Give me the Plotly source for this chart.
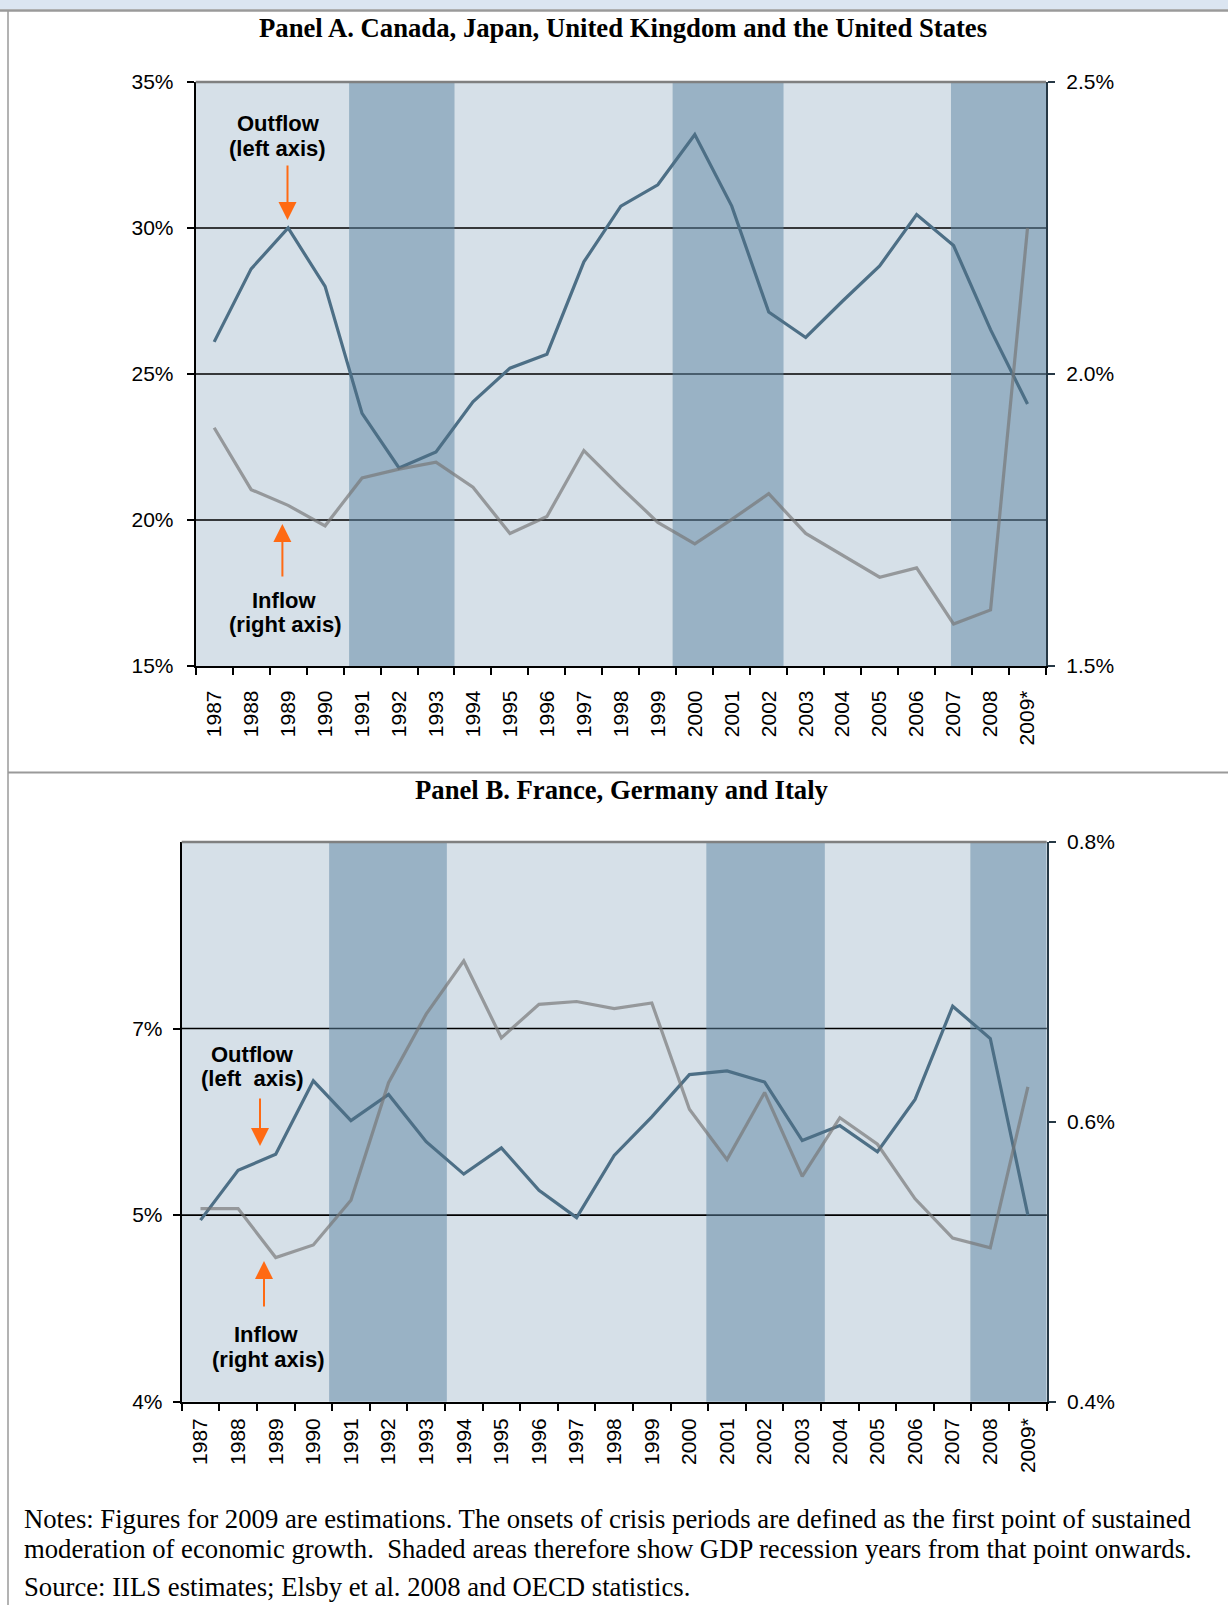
import plotly.graph_objects as go

W, H = 1228, 1605

# ---------------- data ----------------
years = ["1987", "1988", "1989", "1990", "1991", "1992", "1993", "1994", "1995", "1996",
         "1997", "1998", "1999", "2000", "2001", "2002", "2003", "2004", "2005", "2006",
         "2007", "2008", "2009*"]

# Panel A: Canada, Japan, UK, US
outflow_a = [26.1, 28.6, 30.0, 28.0, 23.65, 21.78, 22.33, 24.05, 25.2, 25.68,
             28.84, 30.75, 31.48, 33.2, 30.75, 27.12, 26.25, 27.5, 28.7, 30.46,
             29.4, 26.52, 23.97]
inflow_a = [1.908, 1.802, 1.775, 1.740, 1.822, 1.837, 1.849, 1.806, 1.727, 1.756,
            1.869, 1.806, 1.746, 1.709, 1.751, 1.795, 1.727, 1.690, 1.652, 1.668,
            1.572, 1.596, 2.25]

# Panel B: France, Germany, Italy
outflow_b = [5.46, 5.86, 5.99, 6.58, 6.26, 6.47, 6.09, 5.83, 6.04, 5.70,
             5.48, 5.98, 6.29, 6.63, 6.66, 6.57, 6.10, 6.22, 6.01, 6.43,
             7.18, 6.92, 5.50]
inflow_b = [0.538, 0.538, 0.503, 0.512, 0.544, 0.628, 0.677, 0.715, 0.660, 0.684,
            0.686, 0.681, 0.685, 0.609, 0.573, 0.621, 0.561, 0.603, 0.584, 0.545,
            0.517, 0.510, 0.625]

# shaded recession periods (in year units)
bands_a = [(1990.65, 1993.5), (1999.4, 2002.4), (2006.93, 2009.5)]
bands_b = [(1990.42, 1993.55), (2000.45, 2003.6), (2007.47, 2009.5)]

# axis ticks
a_left_vals = [15, 20, 25, 30, 35]
a_left_text = ["15%", "20%", "25%", "30%", "35%"]
a_right_vals = [1.5, 2.0, 2.5]
a_right_text = ["1.5%", "2.0%", "2.5%"]
b_left_vals = [4, 5.5, 7]
b_left_text = ["4%", "5%", "7%"]
b_right_vals = [0.4, 0.6, 0.8]
b_right_text = ["0.4%", "0.6%", "0.8%"]

title_a = "Panel A. Canada, Japan, United Kingdom and the United States"
title_b = "Panel B. France, Germany and Italy"
notes1 = "Notes: Figures for 2009 are estimations. The onsets of crisis periods are defined as the first point of sustained"
notes2 = "moderation of economic growth.\u00a0 Shaded areas therefore show GDP recession years from that point onwards."
source = "Source: IILS estimates; Elsby et al. 2008 and OECD statistics."

# ---------------- styles ----------------
BG = "#d6e0e8"
BAND = "rgba(92,132,162,0.5)"
OUT_C = "#4d6f86"
IN_C = "rgba(118,118,118,0.68)"
ORANGE = "#ff6a13"
SANS = "Liberation Sans, Arial, sans-serif"
SERIF = "Liberation Serif, Times New Roman, serif"


def px(x):
    return x / W


def py(y):
    return 1 - y / H


fig = go.Figure()
fig.add_trace(go.Scatter(x=years, y=outflow_a, xaxis="x", yaxis="y", mode="lines",
                         line=dict(color=OUT_C, width=3.2), hoverinfo="skip"))
fig.add_trace(go.Scatter(x=years, y=inflow_a, xaxis="x", yaxis="y2", mode="lines",
                         line=dict(color=IN_C, width=3.2), hoverinfo="skip"))
fig.add_trace(go.Scatter(x=years, y=outflow_b, xaxis="x2", yaxis="y3", mode="lines",
                         line=dict(color=OUT_C, width=3.2), hoverinfo="skip"))
fig.add_trace(go.Scatter(x=years, y=inflow_b, xaxis="x2", yaxis="y4", mode="lines",
                         line=dict(color=IN_C, width=3.2), hoverinfo="skip"))

xcommon = dict(type="category", range=[-0.5, len(years) - 0.5], showgrid=False,
               showline=True, linecolor="black", linewidth=2.2,
               ticks="outside", tickson="boundaries", ticklen=7, tickwidth=2, tickcolor="black",
               tickangle=-90, tickfont=dict(family=SANS, size=21, color="black"),
               automargin=False, zeroline=False, fixedrange=True)
yleft = dict(showgrid=False, showline=True, linecolor="black",
             linewidth=2, ticks="outside", ticklen=7, tickwidth=2, tickcolor="black",
             tickfont=dict(family=SANS, size=21, color="black"), zeroline=False,
             automargin=False, ticklabelstandoff=9, fixedrange=True)
yright = dict(showgrid=False, showline=True, linecolor="#263845", linewidth=2.2,
              ticks="outside", ticklen=7, tickwidth=2, tickcolor="#263845",
              tickfont=dict(family=SANS, size=21, color="black"), zeroline=False,
              automargin=False, ticklabelstandoff=7, side="right", fixedrange=True)

fig.update_layout(
    width=W, height=H, margin=dict(l=0, r=0, t=0, b=0),
    paper_bgcolor="white", plot_bgcolor=BG, showlegend=False,
    xaxis=dict(xcommon, domain=[px(195.7), px(1046)], anchor="y", ticklabelstandoff=14),
    yaxis=dict(yleft, domain=[py(666), py(82)], anchor="x", range=[15, 35],
               tickvals=a_left_vals, ticktext=a_left_text),
    yaxis2=dict(yright, overlaying="y", anchor="x", range=[1.5, 2.5],
                tickvals=a_right_vals, ticktext=a_right_text),
    xaxis2=dict(xcommon, domain=[px(181.7), px(1046.7)], anchor="y3", ticklabelstandoff=6),
    yaxis3=dict(yleft, domain=[py(1401.7), py(842)], anchor="x2", range=[4, 8.5],
                tickvals=b_left_vals, ticktext=b_left_text, ticklabelstandoff=6),
    yaxis4=dict(yright, overlaying="y3", anchor="x2", range=[0.4, 0.8],
                tickvals=b_right_vals, ticktext=b_right_text),
)

shapes = []

# gridlines (drawn as shapes so that the shaded bands sit over them)
for v in a_left_vals[1:-1]:
    shapes.append(dict(type="line", xref="x domain", yref="y", x0=0, x1=1, y0=v, y1=v,
                       line=dict(color="black", width=1.6), layer="below"))
for v in b_left_vals[1:]:
    shapes.append(dict(type="line", xref="x2 domain", yref="y3", x0=0, x1=1, y0=v, y1=v,
                       line=dict(color="black", width=1.6), layer="below"))

for a, b in bands_a:
    shapes.append(dict(type="rect", xref="x", yref="y domain", x0=a - 1987, x1=b - 1987, y0=0, y1=1,
                       fillcolor=BAND, line=dict(width=0), layer="below"))
for a, b in bands_b:
    shapes.append(dict(type="rect", xref="x2", yref="y3 domain", x0=a - 1987, x1=b - 1987, y0=0, y1=1,
                       fillcolor=BAND, line=dict(width=0), layer="below"))

# top border of plot areas (gray)
shapes.append(dict(type="line", xref="x domain", yref="y domain", x0=0, x1=1, y0=1, y1=1,
                   line=dict(color="#808080", width=2.5), layer="above"))
shapes.append(dict(type="line", xref="x2 domain", yref="y3 domain", x0=0, x1=1, y0=1, y1=1,
                   line=dict(color="#808080", width=2.5), layer="above"))

# page frame
shapes.append(dict(type="rect", xref="paper", yref="paper", x0=0, x1=1, y0=py(9.5), y1=1,
                   fillcolor="#dbe5f1", line=dict(width=0), layer="below"))
shapes.append(dict(type="line", xref="paper", yref="paper", x0=0, x1=1, y0=py(10.5), y1=py(10.5),
                   line=dict(color="#9a9a9a", width=2.5), layer="above"))
shapes.append(dict(type="line", xref="paper", yref="paper", x0=px(8), x1=px(8), y0=0, y1=py(10.5),
                   line=dict(color="#9a9a9a", width=1.5), layer="above"))
shapes.append(dict(type="line", xref="paper", yref="paper", x0=px(8), x1=1, y0=py(772.5), y1=py(772.5),
                   line=dict(color="#9a9a9a", width=2), layer="above"))

fig.update_layout(shapes=shapes)

ann = []


def text(x, y, s, size, family, bold=False, xanchor="center"):
    ann.append(dict(xref="paper", yref="paper", x=px(x), y=py(y), text=("<b>%s</b>" % s) if bold else s,
                    showarrow=False, xanchor=xanchor, yanchor="middle",
                    font=dict(family=family, size=size, color="black")))


def arrow(x, ytip, ytail):
    ann.append(dict(xref="paper", yref="paper", x=px(x), y=py(ytip), ax=0, ay=ytail - ytip,
                    axref="pixel", ayref="pixel", text="", showarrow=True,
                    arrowhead=2, arrowsize=1.8, arrowwidth=2, arrowcolor=ORANGE))


text(623, 28, title_a, 26.7, SERIF, bold=True)
text(622, 790, title_b, 26.7, SERIF, bold=True)

# Panel A labels
text(278.8, 124, "Outflow", 22, SANS, bold=True)
text(277.3, 148.4, "(left axis)", 22, SANS, bold=True)
arrow(287.5, 220, 164)
arrow(282.4, 524, 578)
text(283.5, 600.7, "Inflow", 22, SANS, bold=True)
text(284.5, 624, "(right axis)", 22, SANS, bold=True)

# Panel B labels
text(252.2, 1054, "Outflow", 22, SANS, bold=True)
text(252.8, 1078.6, "(left\u00a0 axis)", 22, SANS, bold=True)
arrow(260, 1146, 1097)
arrow(264, 1261, 1308)
text(266, 1334, "Inflow", 22, SANS, bold=True)
text(267.6, 1359, "(right axis)", 22, SANS, bold=True)

# notes
text(21.5, 1518.6, notes1, 26.7, SERIF, xanchor="left")
text(21.5, 1549, notes2, 26.7, SERIF, xanchor="left")
text(21.5, 1587, source, 26.7, SERIF, xanchor="left")

fig.update_layout(annotations=ann)
fig.write_html("out.html", config={"displayModeBar": False},
               post_script="document.body.style.margin='0px';document.body.style.overflow='hidden';")
